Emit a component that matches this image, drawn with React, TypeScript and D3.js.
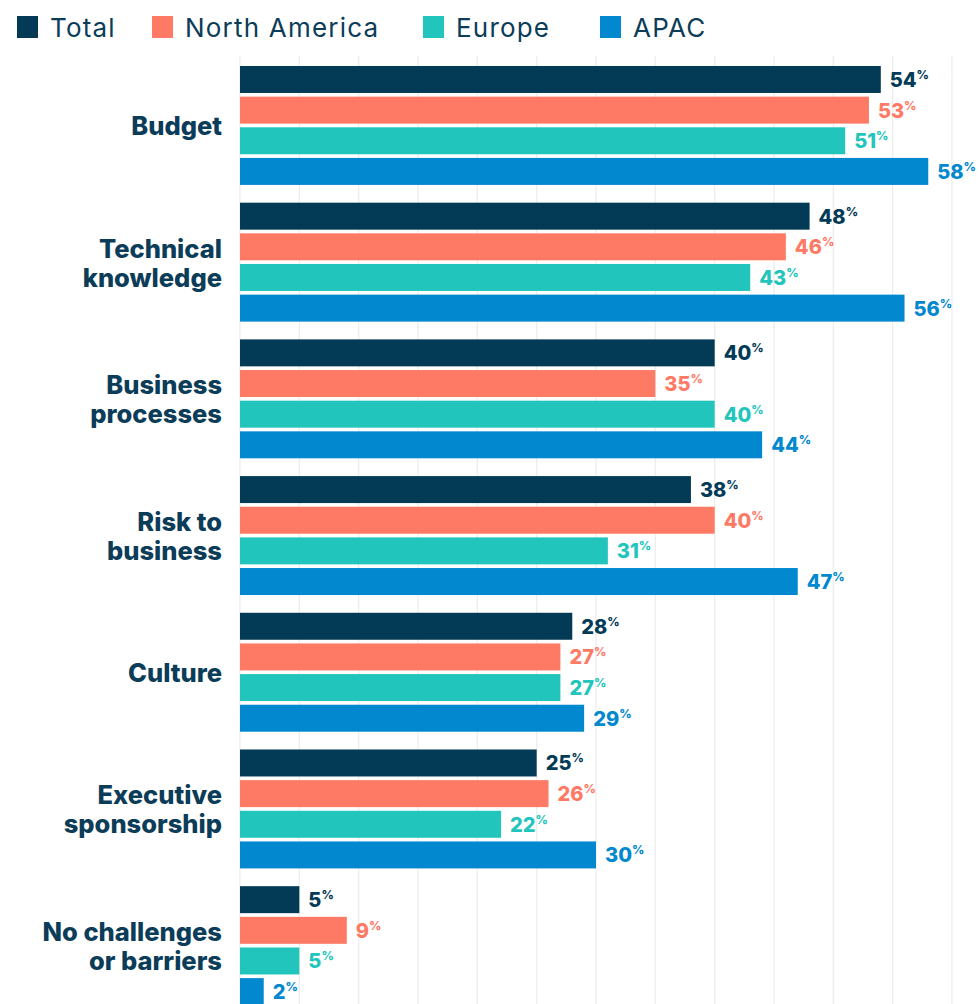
import React from "react";
import * as d3 from "d3";

const categories = [
  ["Budget"],
  ["Technical", "knowledge"],
  ["Business", "processes"],
  ["Risk to", "business"],
  ["Culture"],
  ["Executive", "sponsorship"],
  ["No challenges", "or barriers"],
];
const seriesNames = ["Total", "North America", "Europe", "APAC"];
const seriesColors = ["#033a56", "#fe7a65", "#22c5bc", "#0188cf"];
const totalVals = [54, 48, 40, 38, 28, 25, 5];
const northAmericaVals = [53, 46, 35, 40, 27, 26, 9];
const europeVals = [51, 43, 40, 31, 27, 22, 5];
const apacVals = [58, 56, 44, 47, 29, 30, 2];
const gridTicks = [0, 5, 10, 15, 20, 25, 30, 35, 40, 45, 50, 55, 60];

const W = 979;
const H = 1004;
const FONT = "Inter, 'Open Sans', sans-serif";
const TEXT = "#0b3c58";

export default function App() {
  const seriesVals = [totalVals, northAmericaVals, europeVals, apacVals];
  const keys = categories.map((c) => c.join(" "));
  const x = d3.scaleLinear().domain([0, 60]).range([240, 952]);
  const y0 = d3
    .scaleBand<string>()
    .domain(keys)
    .range([57.1, 1014])
    .paddingInner(0.13)
    .paddingOuter(0.065);
  const y1 = d3
    .scaleBand<string>()
    .domain(seriesNames)
    .range([0, y0.bandwidth()])
    .paddingInner(0.12);

  const legendX = [17, 152, 423, 600];

  return (
    <svg
      width={W}
      height={H}
      style={{ position: "absolute", left: 0, top: 0, display: "block", background: "#fff" }}
      fontFamily={FONT}
    >
      {gridTicks.map((t) => (
        <line key={t} x1={x(t)} x2={x(t)} y1={56} y2={H} stroke="#ececec" strokeWidth={1.2} />
      ))}
      {seriesNames.map((s, i) => (
        <g key={s} transform={`translate(${legendX[i]},16)`}>
          <rect width={21} height={22} fill={seriesColors[i]} />
          <text x={33} y={20.5} fontSize={26} fill={TEXT} fontWeight={400} letterSpacing={1.2}>
            {s}
          </text>
        </g>
      ))}
      {categories.map((c, ci) => {
        const key = keys[ci];
        const gy = y0(key)!;
        const cy = gy + y0.bandwidth() / 2;
        const lh = 29;
        const startY = cy - ((c.length - 1) * lh) / 2 + 10;
        return (
          <g key={key}>
            <text textAnchor="end" fontSize={25.5} fontWeight={800} fill={TEXT}>
              {c.map((line, li) => (
                <tspan key={li} x={222} y={startY + li * lh}>
                  {line}
                </tspan>
              ))}
            </text>
            {seriesNames.map((s, si) => {
              const v = seriesVals[si][ci];
              const by = gy + y1(s)!;
              const bh = y1.bandwidth();
              return (
                <g key={s}>
                  <rect x={x(0)} y={by} width={x(v) - x(0)} height={bh} fill={seriesColors[si]} />
                  <text
                    x={x(v) + 9}
                    y={by + bh / 2 + 7.5}
                    fontSize={20}
                    fontWeight={800}
                    fill={seriesColors[si]}
                  >
                    {v}
                    <tspan fontSize={12} dy={-8}>
                      %
                    </tspan>
                  </text>
                </g>
              );
            })}
          </g>
        );
      })}
    </svg>
  );
}
